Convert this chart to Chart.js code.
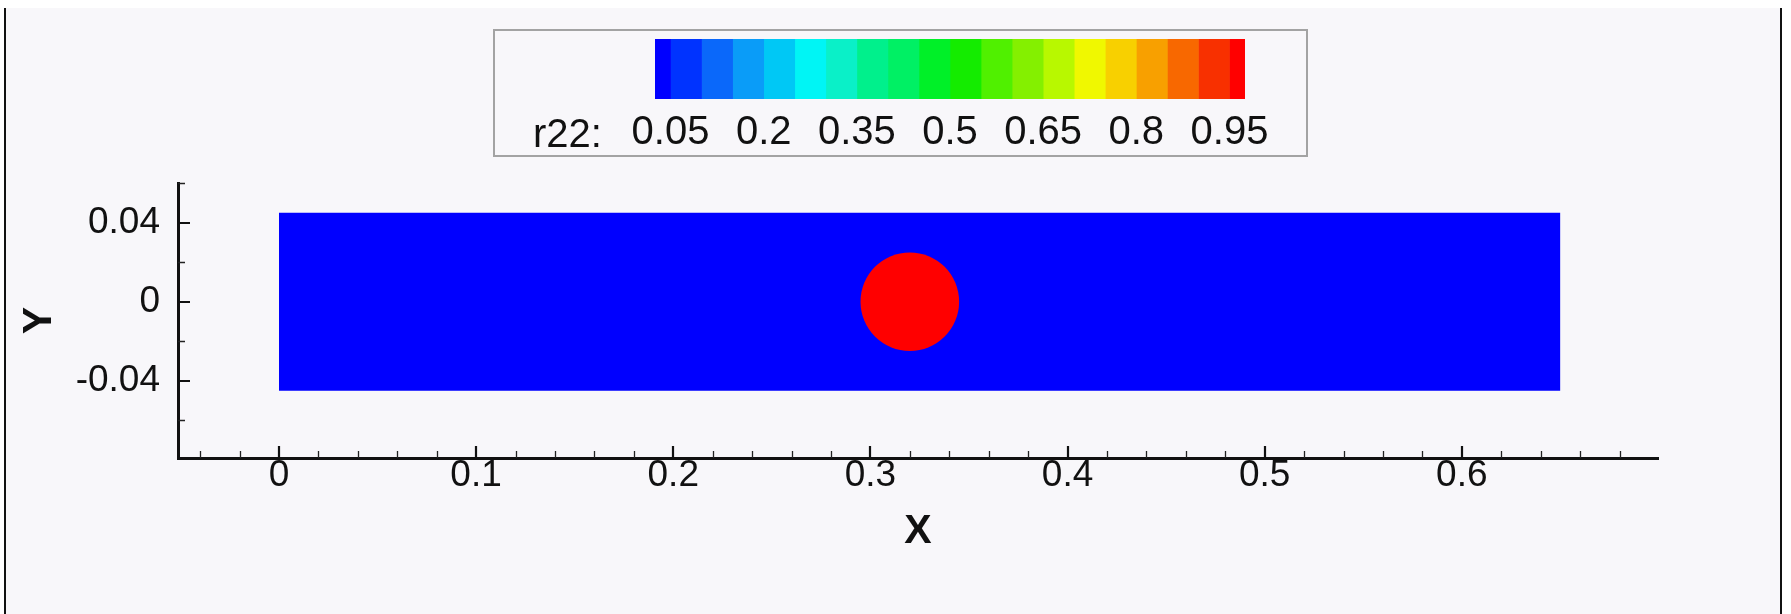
<!DOCTYPE html>
<html lang="en">
<head>
<meta charset="UTF-8">
<title>r22 contour</title>
<script src="https://cdn.jsdelivr.net/npm/chart.js"></script>
<style>
    body {
        margin: 0;
        width: 1791px;
        height: 614px;
        overflow: hidden;
        position: relative;
        background: #ffffff;
        font-family: "Liberation Sans", Arial, sans-serif;
    }
    .frame {
        position: absolute;
        left: 4px;
        top: 8px;
        width: 1774px;
        height: 606px;
        background: #f8f7fa;
        border-left: 2px solid #111;
        border-right: 2px solid #111;
    }
    #plot { position: absolute; left: 0; top: 0; }
    .legend {
        position: absolute;
        left: 493px;
        top: 29px;
        width: 815px;
        height: 128px;
        box-sizing: border-box;
        border: 2px solid #a3a3a3;
    }
    #bar { position: absolute; left: 0; top: 0; }
    .legend span {
        position: absolute;
        left: 38px;
        top: 78px;
        font-size: 40px;
        line-height: 48px;
        color: #111;
        white-space: nowrap;
    }
</style>
</head>
<body>
<div class="frame"></div>
<canvas id="plot" width="1791" height="614"></canvas>
<div class="legend">
    <canvas id="bar" width="811" height="124"></canvas>
    <span>r22:</span>
</div>

<script>
// axis ticks
const xTickValues = [0, 0.1, 0.2, 0.3, 0.4, 0.5, 0.6];
const xTickLabels = ['0', '0.1', '0.2', '0.3', '0.4', '0.5', '0.6'];
const yTickValues = [-0.04, 0, 0.04];
const yTickLabels = ['-0.04', '0', '0.04'];
const xMinorStep = 0.02;
const yMinorStep = 0.02;

// channel (r22 = 0) and droplet (r22 = 1)
const domainX = [0, 0.65];
const domainTop = [0.045, 0.045];
const domainBottom = -0.045;
const circleX = [0.32];
const circleY = [0];
const circleR = [0.025];

// contour legend
const levelEdges = [0.025, 0.05, 0.1, 0.15, 0.2, 0.25, 0.3, 0.35, 0.4, 0.45, 0.5,
                    0.55, 0.6, 0.65, 0.7, 0.75, 0.8, 0.85, 0.9, 0.95, 0.975];
const levelColors = ['#0000ff', '#0033ff', '#0a68fa', '#0a9cf8', '#00c8f5',
                     '#00f5f5', '#0af0c8', '#00f08c', '#00f064', '#00f028',
                     '#14ec00', '#50f000', '#84f000', '#b8f800', '#f0f800',
                     '#f8d000', '#f8a000', '#f86800', '#f83000', '#ff0000'];
const legendTickValues = [0.05, 0.2, 0.35, 0.5, 0.65, 0.8, 0.95];
const legendTickLabels = ['0.05', '0.2', '0.35', '0.5', '0.65', '0.8', '0.95'];

Chart.defaults.font.family = "'Liberation Sans', Arial, sans-serif";
Chart.defaults.color = '#111';

// inward major/minor tick marks, like the original plot
const innerTicks = {
    id: 'innerTicks',
    afterDraw(chart) {
        const {ctx, chartArea, scales: {x, y}} = chart;
        const bottom = chartArea.bottom, left = chartArea.left;
        ctx.save();
        ctx.strokeStyle = '#222';
        ctx.lineWidth = 1.3;
        ctx.beginPath();
        for (let k = Math.ceil(x.min / xMinorStep - 1e-9); k <= Math.floor(x.max / xMinorStep + 1e-9); k++) {
            if (k % 5 === 0) continue;
            const px = Math.round(x.getPixelForValue(k * xMinorStep)) + 0.5;
            ctx.moveTo(px, bottom);
            ctx.lineTo(px, bottom - 7);
        }
        for (let k = Math.ceil(y.min / yMinorStep - 1e-9); k <= Math.floor(y.max / yMinorStep + 1e-9); k++) {
            if (k % 2 === 0) continue;
            const py = Math.round(y.getPixelForValue(k * yMinorStep)) + 0.5;
            ctx.moveTo(left, py);
            ctx.lineTo(left + 7, py);
        }
        ctx.stroke();

        ctx.strokeStyle = '#111';
        ctx.lineWidth = 2.2;
        ctx.beginPath();
        xTickValues.forEach(v => {
            const px = Math.round(x.getPixelForValue(v));
            ctx.moveTo(px, bottom);
            ctx.lineTo(px, bottom - 12);
        });
        yTickValues.forEach(v => {
            const py = Math.round(y.getPixelForValue(v));
            ctx.moveTo(left, py);
            ctx.lineTo(left + 12, py);
        });
        ctx.stroke();
        ctx.restore();
    }
};

new Chart(document.getElementById('plot'), {
    type: 'scatter',
    data: {
        datasets: [
            {
                // droplet, first dataset so it is painted on top
                data: circleX.map((v, i) => ({x: v, y: circleY[i]})),
                pointRadius: (ctx) => {
                    const s = ctx.chart.scales.x;
                    const i = ctx.dataIndex || 0;
                    const r = s.getPixelForValue(circleX[i] + circleR[i]) - s.getPixelForValue(circleX[i]);
                    return isFinite(r) ? Math.abs(r) : 0;
                },
                pointHoverRadius: 0,
                pointBackgroundColor: '#ff0000',
                pointBorderWidth: 0,
                pointBorderColor: 'rgba(0,0,0,0)'
            },
            {
                data: domainX.map((v, i) => ({x: v, y: domainTop[i]})),
                showLine: true,
                pointRadius: 0,
                borderWidth: 0,
                borderColor: 'rgba(0,0,0,0)',
                backgroundColor: '#0000ff',
                fill: {target: {value: domainBottom}}
            }
        ]
    },
    options: {
        responsive: false,
        animation: false,
        events: [],
        layout: {padding: {top: 183, right: 133, bottom: 0, left: 0}, autoPadding: false},
        plugins: {legend: {display: false}, tooltip: {enabled: false}},
        scales: {
            x: {
                type: 'linear',
                min: -0.0512,
                max: 0.6995,
                afterBuildTicks: s => { s.ticks = xTickValues.map(v => ({value: v})); },
                afterFit: s => { s.height = 156; },
                grid: {display: false, drawTicks: false},
                border: {display: true, color: '#111', width: 3},
                ticks: {
                    callback: (v, i) => xTickLabels[i],
                    font: {size: 37},
                    color: '#111',
                    padding: -4,
                    maxRotation: 0,
                    autoSkip: false
                },
                title: {
                    display: true,
                    text: 'X',
                    color: '#111',
                    font: {size: 41, weight: 'bold'},
                    padding: {top: 0, bottom: 58}
                }
            },
            y: {
                type: 'linear',
                min: -0.079,
                max: 0.06,
                afterBuildTicks: s => { s.ticks = yTickValues.map(v => ({value: v})); },
                afterFit: s => { s.width = 178; },
                grid: {display: false, drawTicks: false},
                border: {display: true, color: '#111', width: 3},
                ticks: {
                    callback: (v, i) => yTickLabels[i],
                    font: {size: 37},
                    color: '#111',
                    padding: 18,
                    autoSkip: false
                },
                title: {
                    display: true,
                    text: 'Y',
                    color: '#111',
                    font: {size: 41, weight: 'bold'},
                    padding: {top: 15, bottom: 0}
                }
            }
        }
    },
    plugins: [innerTicks]
});

// colour bar: one floating bar per contour band
new Chart(document.getElementById('bar'), {
    type: 'bar',
    data: {
        labels: ['r22'],
        datasets: levelColors.map((c, i) => ({
            data: [[levelEdges[i], levelEdges[i + 1]]],
            backgroundColor: c,
            borderWidth: 0,
            grouped: false,
            barPercentage: 1,
            categoryPercentage: 1
        }))
    },
    options: {
        indexAxis: 'y',
        responsive: false,
        animation: false,
        events: [],
        layout: {padding: {top: 8, right: 61, bottom: 0, left: 160}, autoPadding: false},
        plugins: {legend: {display: false}, tooltip: {enabled: false}},
        scales: {
            y: {display: false},
            x: {
                type: 'linear',
                min: 0.025,
                max: 0.975,
                z: 1,
                afterBuildTicks: s => { s.ticks = legendTickValues.map(v => ({value: v})); },
                afterFit: s => { s.height = 56; },
                grid: {display: true, drawTicks: false, color: 'rgba(0,0,0,0.3)', lineWidth: 1},
                border: {display: false},
                ticks: {
                    callback: (v, i) => legendTickLabels[i],
                    font: {size: 40},
                    color: '#111',
                    padding: 10,
                    maxRotation: 0,
                    autoSkip: false
                }
            }
        }
    }
});
</script>
</body>
</html>
